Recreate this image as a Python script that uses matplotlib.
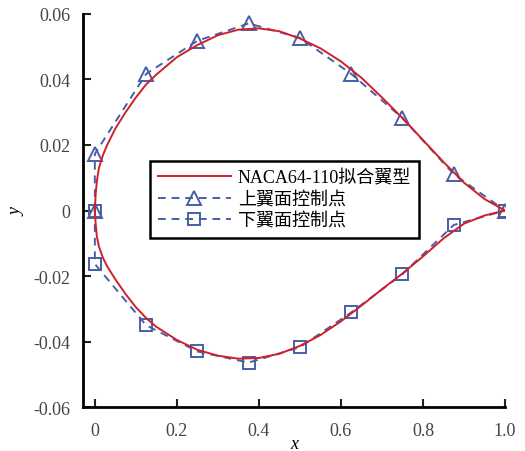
import matplotlib
matplotlib.use('Agg')
import matplotlib.pyplot as plt

plt.rcParams['font.family'] = ['Liberation Serif', 'Noto Sans CJK SC', 'DejaVu Sans']

# fitted airfoil (red curve)
fit_x = [0, 0.002, 0.005, 0.01, 0.02, 0.03, 0.05, 0.075, 0.1, 0.125, 0.15, 0.2, 0.25,
         0.3, 0.35, 0.4, 0.45, 0.5, 0.55, 0.6, 0.65, 0.7, 0.75, 0.8, 0.85, 0.9, 0.95, 1.0]
fit_upper = [0, 0.005, 0.009, 0.013, 0.017, 0.020, 0.025, 0.030, 0.0345, 0.0385, 0.0415,
             0.0468, 0.0505, 0.0535, 0.0552, 0.0556, 0.0547, 0.0525, 0.0495, 0.0455,
             0.0405, 0.0345, 0.0282, 0.0215, 0.0148, 0.0085, 0.0035, 0.0]
fit_lower = [0, -0.004, -0.008, -0.011, -0.0145, -0.017, -0.021, -0.0255, -0.0295,
             -0.0328, -0.0355, -0.0395, -0.0425, -0.0443, -0.0452, -0.0450, -0.0437,
             -0.0413, -0.0380, -0.0338, -0.0290, -0.0240, -0.0192, -0.0140, -0.0085,
             -0.0040, -0.0015, 0.0]

# control points
ctrl_up_x = [0, 0, 0.125, 0.25, 0.375, 0.5, 0.625, 0.75, 0.875, 1.0]
ctrl_up_y = [0, 0.0173, 0.0417, 0.0518, 0.0571, 0.0527, 0.0417, 0.0282, 0.0111, 0]
ctrl_lo_x = [0, 0, 0.125, 0.25, 0.375, 0.5, 0.625, 0.75, 0.875, 1.0]
ctrl_lo_y = [0, -0.0163, -0.0350, -0.0430, -0.0464, -0.0417, -0.0311, -0.0194, -0.0044, 0]

xticks = [0, 0.2, 0.4, 0.6, 0.8, 1.0]
xticklabels = ['0', '0.2', '0.4', '0.6', '0.8', '1.0']
yticks = [-0.06, -0.04, -0.02, 0, 0.02, 0.04, 0.06]
yticklabels = ['-0.06', '-0.04', '-0.02', '0', '0.02', '0.04', '0.06']

red = '#d0202a'
blue = '#4560a5'

fig = plt.figure(figsize=(5.25, 4.52), dpi=100)
ax = fig.add_axes([0.158, 0.097, 0.804, 0.870])

ax.plot(fit_x, fit_upper, color=red, lw=1.4, label='NACA64-110拟合翼型', zorder=3)
ax.plot(fit_x, fit_lower, color=red, lw=1.4, zorder=3)
ax.plot(ctrl_up_x, ctrl_up_y, color=blue, lw=1.4, ls=(0, (4, 3)), marker='^', ms=10,
        mfc='none', mec=blue, mew=1.4, label='上翼面控制点', zorder=2)
ax.plot(ctrl_lo_x, ctrl_lo_y, color=blue, lw=1.4, ls=(0, (4, 3)), marker='s', ms=9,
        mfc='none', mec=blue, mew=1.4, label='下翼面控制点', zorder=2)

ax.set_xlim(-0.029, 1.0)
ax.set_ylim(-0.06, 0.06)
ax.set_xticks(xticks)
ax.set_xticklabels(xticklabels)
ax.set_yticks(yticks)
ax.set_yticklabels(yticklabels)

for s in ['top', 'right']:
    ax.spines[s].set_visible(False)
for s in ['left', 'bottom']:
    ax.spines[s].set_linewidth(2)
ax.tick_params(direction='in', length=6, width=1.5, labelsize=13, colors='#222222',
               labelcolor='#444444')
ax.tick_params(axis='y', pad=9)
ax.tick_params(axis='x', pad=11)

ax.set_xlabel('x', fontstyle='italic', fontsize=13, labelpad=-3)
ax.set_ylabel('y', fontstyle='italic', fontsize=13, labelpad=6)

leg = ax.legend(loc='upper left', bbox_to_anchor=(0.138, 0.648), fontsize=13,
                frameon=True, fancybox=False, borderpad=0.45, handlelength=4.0,
                handletextpad=0.4, labelspacing=0.25)
leg.get_frame().set_edgecolor('black')
leg.get_frame().set_linewidth(1.8)
leg.get_frame().set_alpha(1)

fig.savefig('out.png', dpi=100)
